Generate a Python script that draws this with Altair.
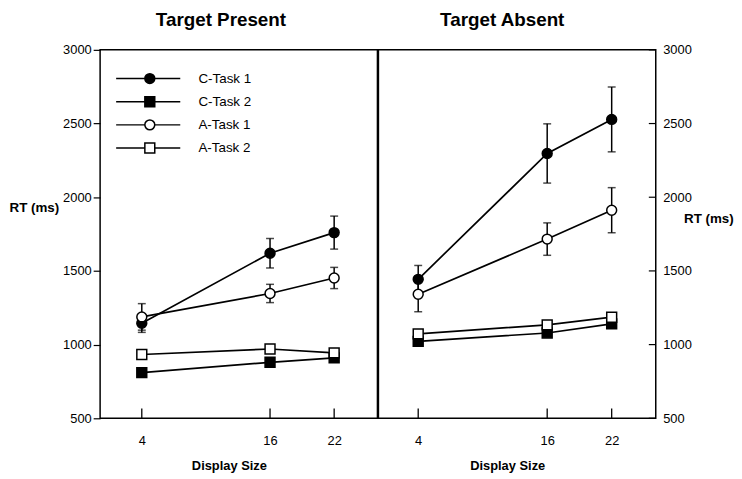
import altair as alt
import pandas as pd

sizes = [4, 16, 22]
series = ["C-Task 1", "C-Task 2", "A-Task 1", "A-Task 2"]

# Target Present (RT in ms)
present_c1 = [1145, 1620, 1760]
present_c2 = [810, 880, 910]
present_a1 = [1188, 1347, 1452]
present_a2 = [933, 970, 944]
present_c1_err = [62, 100, 112]
present_a1_err = [90, 62, 72]

# Target Absent (RT in ms)
absent_c1 = [1443, 2297, 2528]
absent_c2 = [1022, 1079, 1141]
absent_a1 = [1342, 1716, 1912]
absent_a2 = [1073, 1134, 1186]
absent_c1_err = [94, 201, 220]
absent_a1_err = [119, 110, 153]

y_ticks = [500, 1000, 1500, 2000, 2500, 3000]

shape_range = ["circle", "square", "circle", "square"]
fill_range = ["black", "black", "white", "white"]


def make_frames(vals, errs):
    rows = []
    for s, v in zip(series, vals):
        for x, r in zip(sizes, v):
            rows.append({"series": s, "size": x, "rt": r})
    erows = []
    for s, e in errs.items():
        v = vals[series.index(s)]
        for x, r, d in zip(sizes, v, e):
            erows.append({"series": s, "size": x, "lo": r - d, "hi": r + d})
    return pd.DataFrame(rows), pd.DataFrame(erows)


FONT = "Liberation Sans"
H = 372


def panel(title, vals, errs, width, side, title_dx, xtitle_x, with_legend, xdom):
    df, edf = make_frames(vals, errs)
    xscale = alt.Scale(domain=xdom, nice=False, zero=False)
    yscale = alt.Scale(domain=[500, 3000], nice=False, zero=False)
    xaxis = alt.Axis(
        values=sizes, ticks=False, domain=False, grid=False,
        title="Display Size", titleFont=FONT, titleFontSize=13, titleFontWeight="bold",
        titleColor="black", titleX=xtitle_x, titleAlign="center", titlePadding=13,
        labelFont=FONT, labelFontSize=13, labelColor="black", labelPadding=16,
    )
    if side == "left":
        yaxis = alt.Axis(
            orient="left", values=y_ticks, format="d", grid=False, domain=False,
            ticks=True, tickSize=7, tickColor="black", tickWidth=1.2,
            labelFont=FONT, labelFontSize=13, labelColor="black", labelPadding=2,
            title="RT (ms)", titleAngle=0, titleAlign="left", titleBaseline="middle",
            titleX=-92, titleY=159, titleFont=FONT, titleFontSize=13.5,
            titleFontWeight="bold", titleColor="black",
        )
    else:
        yaxis = alt.Axis(
            orient="right", values=y_ticks, format="d", grid=False, domain=False, ticks=False,
            labelFont=FONT, labelFontSize=13, labelColor="black", labelPadding=7,
            title="RT (ms)", titleAngle=0, titleAlign="left", titleBaseline="middle",
            titleX=28, titleY=170, titleFont=FONT, titleFontSize=13.5,
            titleFontWeight="bold", titleColor="black",
        )

    X = lambda f: alt.X(f, scale=xscale, axis=xaxis)
    Y = lambda f: alt.Y(f, scale=yscale, axis=yaxis)

    lines = alt.Chart(df).mark_line(color="black", strokeWidth=1.7).encode(
        x=X("size:Q"), y=Y("rt:Q"), detail="series:N", order="size:Q"
    )
    err = alt.Chart(edf).mark_errorbar(
        color="black", thickness=1.5,
        ticks={"size": 8, "thickness": 1.5, "color": "black"},
    ).encode(x=X("size:Q"), y=Y("lo:Q"), y2="hi:Q")
    pts = alt.Chart(df).mark_point(size=100, strokeWidth=1.5, stroke="black", opacity=1).encode(
        x=X("size:Q"), y=Y("rt:Q"),
        shape=alt.Shape("series:N", scale=alt.Scale(domain=series, range=shape_range), legend=None),
        fill=alt.Fill("series:N", scale=alt.Scale(domain=series, range=fill_range), legend=None),
    )
    tick_df = pd.DataFrame({"size": sizes})
    xticks = alt.Chart(tick_df).mark_rule(color="black", strokeWidth=1.3).encode(
        x=X("size:Q"), y=alt.value(H - 10), y2=alt.value(H)
    )
    layers = [lines, err, pts, xticks]
    if side == "right":
        ytick_df = pd.DataFrame({"rt": y_ticks})
        yticks = alt.Chart(ytick_df).mark_rule(color="black", strokeWidth=1.2).encode(
            y=Y("rt:Q"), x=alt.value(width - 7), x2=alt.value(width)
        )
        layers.append(yticks)
    if with_legend:
        n = len(series)
        leg = pd.DataFrame({
            "series": series,
            "ly": [2805 - 157 * i for i in range(n)],
            "lx1": [1.6] * n,
            "lx2": [7.6] * n,
            "lx": [4.75] * n,
            "tx": [9.3] * n,
        })
        lrule = alt.Chart(leg).mark_rule(color="black", strokeWidth=1.5).encode(
            x=X("lx1:Q"), x2="lx2:Q", y=Y("ly:Q")
        )
        lpts = alt.Chart(leg).mark_point(size=100, strokeWidth=1.5, stroke="black", opacity=1).encode(
            x=X("lx:Q"), y=Y("ly:Q"),
            shape=alt.Shape("series:N", scale=alt.Scale(domain=series, range=shape_range), legend=None),
            fill=alt.Fill("series:N", scale=alt.Scale(domain=series, range=fill_range), legend=None),
        )
        ltext = alt.Chart(leg).mark_text(
            align="left", baseline="middle", font=FONT, fontSize=13.5, color="black"
        ).encode(x=X("tx:Q"), y=Y("ly:Q"), text="series:N")
        layers += [lrule, lpts, ltext]

    return alt.layer(*layers).properties(
        width=width, height=H,
        title=alt.TitleParams(
            title, font=FONT, fontSize=19, fontWeight="bold", color="black",
            anchor="middle", dx=title_dx, offset=14,
        ),
    )


left = panel("Target Present",
             [present_c1, present_c2, present_a1, present_a2],
             {"C-Task 1": present_c1_err, "A-Task 1": present_a1_err},
             280, "left", -18, 130, True, [0.1, 26.05])
right = panel("Target Absent",
              [absent_c1, absent_c2, absent_a1, absent_a2],
              {"C-Task 1": absent_c1_err, "A-Task 1": absent_a1_err},
              280, "right", -15, 130, False, [0.3, 26.1])

chart = alt.hconcat(left, right, spacing=-3).properties(
    padding={"left": 0, "top": 0, "right": 0, "bottom": 0},
    background="white",
).configure_view(stroke="black", strokeWidth=1.5)

chart.save("out.html", embed_options={"renderer": "svg", "actions": False})
